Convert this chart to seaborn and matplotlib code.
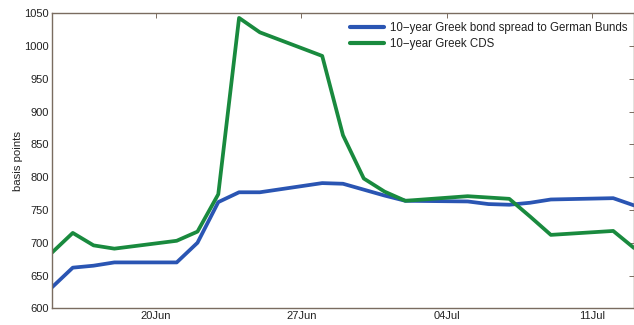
import matplotlib
matplotlib.use("Agg")
import matplotlib.pyplot as plt
import matplotlib.dates as mdates
import numpy as np
import pandas as pd
import seaborn as sns

# Trading days, mid-June to mid-July 2010
dates = ["2010-06-15", "2010-06-16", "2010-06-17", "2010-06-18",
         "2010-06-21", "2010-06-22", "2010-06-23", "2010-06-24", "2010-06-25",
         "2010-06-28", "2010-06-29", "2010-06-30", "2010-07-01", "2010-07-02",
         "2010-07-05", "2010-07-06", "2010-07-07", "2010-07-08", "2010-07-09",
         "2010-07-12", "2010-07-13"]

bond_spread = [632, 662, 665, 670, 670, 700, 762, 777, 777,
               791, 790, 781, 772, 764,
               763, 759, 758, 761, 766,
               768, 757]

cds = [685, 715, 696, 691, 703, 717, 774, 1043, 1021,
       985, 864, 798, 778, 764,
       771, 769, 767, 740, 712,
       718, 692]

series_names = ["10\u2212year Greek bond spread to German Bunds",
                "10\u2212year Greek CDS"]
series_colors = ["#2a55b3", "#198a3e"]

y_ticks = list(range(600, 1051, 50))
x_ticks = ["2010-06-20", "2010-06-27", "2010-07-04", "2010-07-11"]

df = pd.DataFrame({
    "date": pd.to_datetime(dates * 2),
    "bp": bond_spread + cds,
    "series": [series_names[0]] * len(dates) + [series_names[1]] * len(dates),
})

sns.set_style("white")
plt.rcParams["font.family"] = ["Liberation Sans", "DejaVu Sans"]

fig = plt.figure(figsize=(6.34, 3.25), dpi=100)
ax = fig.add_axes([0.082, 0.0514, 0.918, 0.9076])

sns.lineplot(data=df, x="date", y="bp", hue="series",
             palette=dict(zip(series_names, series_colors)),
             linewidth=2.7, ax=ax, legend=True)

ax.set_xlim(pd.Timestamp("2010-06-15"), pd.Timestamp("2010-07-13"))
ax.set_ylim(600, 1050)
ax.set_yticks(y_ticks)
ax.set_xticks(pd.to_datetime(x_ticks))
ax.xaxis.set_major_formatter(mdates.DateFormatter("%d%b"))
ax.set_xlabel("")
ax.set_ylabel("basis points", fontsize=8.2, color="#222222", labelpad=1)

spine_color = "#7a6c60"
for s in ax.spines.values():
    s.set_visible(True)
    s.set_color(spine_color)
    s.set_linewidth(1.0)

ax.tick_params(axis="both", direction="in", length=3.5, width=0.7,
               color=spine_color, labelsize=8, labelcolor="#222222",
               top=True, right=True, pad=2)

leg = ax.legend(loc="upper right", frameon=False, fontsize=8.3,
                handlelength=3.0, handletextpad=0.5, labelspacing=0.3,
                borderaxespad=0.3, bbox_to_anchor=(1.003, 0.997))
for line in leg.get_lines():
    line.set_linewidth(3.0)
for t in leg.get_texts():
    t.set_color("#222222")

fig.savefig("out.png", dpi=100)
